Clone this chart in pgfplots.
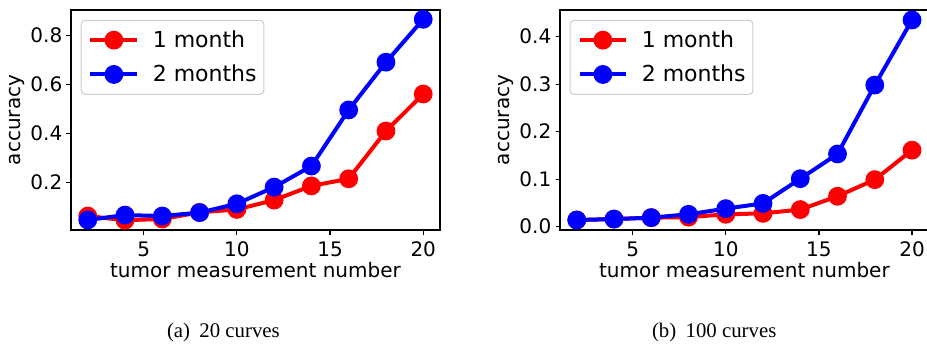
\documentclass[border=0pt]{standalone}
\usepackage{pgfplots}
\pgfplotsset{compat=1.18}
\usepackage{fontspec}
\setmainfont{DejaVu Sans}
\newfontfamily\capfont{Liberation Serif}
\pgfplotsset{
  panel/.style={
    anchor=south west,
    scale only axis,
    width=184.5pt, height=110pt,
    xmin=1.1, xmax=20.9,
    xtick={5,10,15,20},
    tick align=outside,
    major tick length=2.25pt,
    axis line style={line width=0.6pt, black},
    tick style={line width=0.6pt, black},
    xtick pos=bottom, ytick pos=left,
    /pgf/number format/assume math mode=true,
    tick label style={font=\fontsize{10}{12}\selectfont, inner sep=0pt},
    xticklabel style={anchor=north, yshift=-3.5pt},
    yticklabel style={anchor=east, xshift=-1.9pt},
    label style={font=\fontsize{10}{12}\selectfont},
    xlabel={tumor measurement number},
    ylabel={accuracy},
    xlabel style={at={(axis description cs:0.5,0)}, anchor=base, yshift=-23.5pt},
    ylabel style={at={(axis description cs:0,0.5)}, anchor=base, rotate=0, yshift=25.4pt},
    legend cell align=left,
    legend style={
      at={(axis description cs:0,1)}, anchor=north west,
      xshift=4.85pt, yshift=-4.9pt,
      font=\fontsize{11}{13}\selectfont,
      draw=black!20, line width=0.5pt, rounded corners=2pt,
      fill=white,
      inner xsep=3.65pt, inner ysep=5pt, row sep=7.3pt,
      nodes={inner sep=0pt},
      /tikz/every odd column/.append style={column sep=6.8pt},
    },
    legend image code/.code={
      \draw[mark repeat=2, mark phase=2, #1] plot coordinates {(0pt,0pt) (11.7pt,0pt) (23.35pt,0pt)};
    },
    every axis plot/.append style={line width=2pt, mark=*, mark size=4.4pt},
  }
}
\begin{document}
\begin{tikzpicture}[x=1pt,y=1pt]
\begin{axis}[panel, at={(35.5pt,56.5pt)},
  ymin=0.007, ymax=0.905,
  ytick={0.2,0.4,0.6,0.8},
  yticklabel style={/pgf/number format/.cd, fixed, precision=1, fixed zerofill}]
\addplot[color=red, mark options={fill=red, draw=red, line width=0.6pt}] coordinates {
(2,0.064) (4,0.047) (6,0.052) (8,0.079) (10,0.091) (12,0.129) (14,0.187) (16,0.216) (18,0.411) (20,0.562)};
\addlegendentry{1 month}
\addplot[color=blue, mark options={fill=blue, draw=blue, line width=0.6pt}] coordinates {
(2,0.048) (4,0.068) (6,0.064) (8,0.078) (10,0.114) (12,0.182) (14,0.268) (16,0.497) (18,0.692) (20,0.867)};
\addlegendentry{2 months}
\end{axis}
\begin{axis}[panel, at={(280pt,56.5pt)}, width=184.4pt,
  ymin=-0.007, ymax=0.456,
  ytick={0,0.1,0.2,0.3,0.4},
  yticklabel style={/pgf/number format/.cd, fixed, precision=1, fixed zerofill}]
\addplot[color=red, mark options={fill=red, draw=red, line width=0.6pt}] coordinates {
(2,0.014) (4,0.016) (6,0.019) (8,0.020) (10,0.026) (12,0.028) (14,0.036) (16,0.064) (18,0.099) (20,0.161)};
\addlegendentry{1 month}
\addplot[color=blue, mark options={fill=blue, draw=blue, line width=0.6pt}] coordinates {
(2,0.014) (4,0.016) (6,0.019) (8,0.026) (10,0.038) (12,0.049) (14,0.101) (16,0.153) (18,0.298) (20,0.435)};
\addlegendentry{2 months}
\end{axis}
\node[anchor=base, inner sep=0pt, font=\capfont\fontsize{10.4}{12}\selectfont] at (111.7,2.9) {(a)\hspace{0.45em}20 curves};
\node[anchor=base, inner sep=0pt, font=\capfont\fontsize{10.4}{12}\selectfont] at (357.1,2.9) {(b)\hspace{0.45em}100 curves};
\pgfresetboundingbox
\path[use as bounding box] (0,0) rectangle (463.5,171.5);
\end{tikzpicture}
\end{document}
